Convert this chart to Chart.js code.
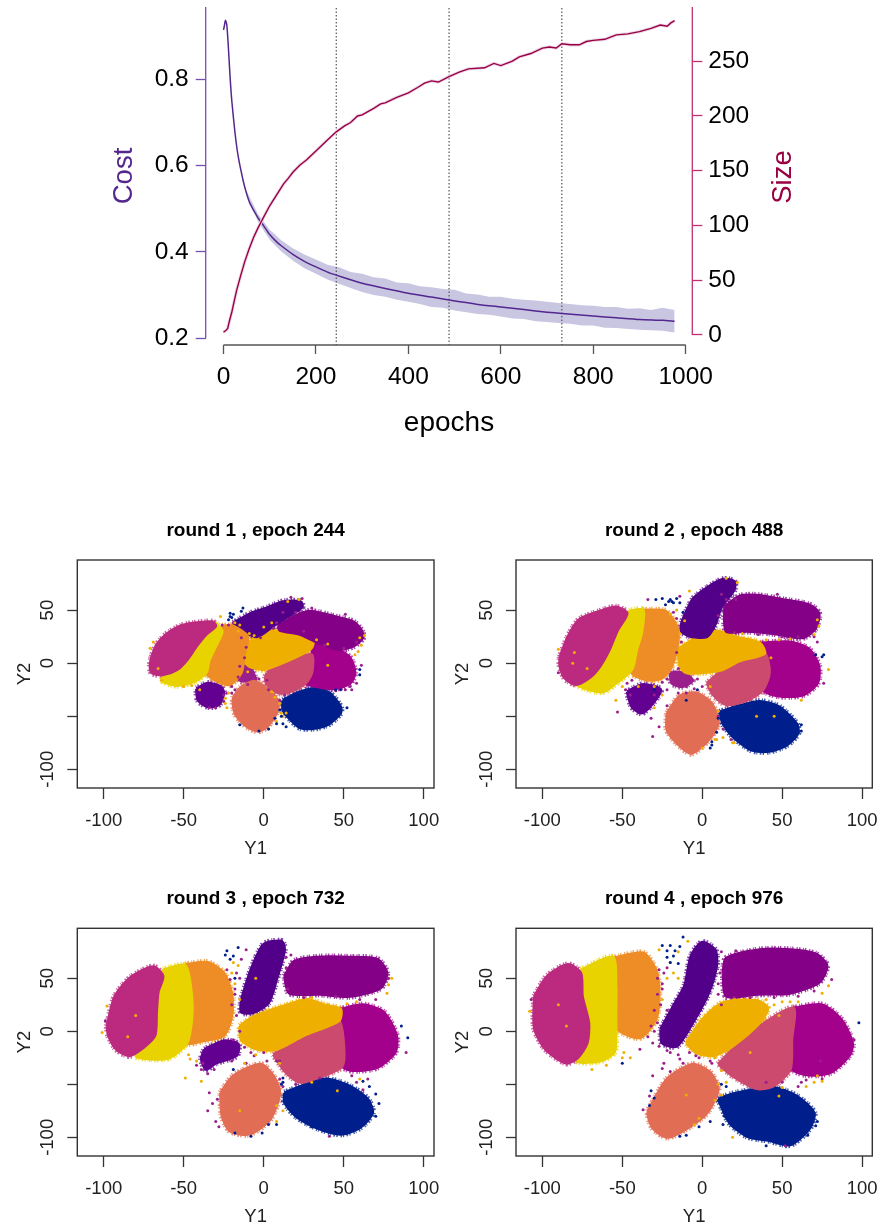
<!DOCTYPE html>
<html><head><meta charset="utf-8">
<style>
html,body{margin:0;padding:0;background:#fff;width:881px;height:1228px;overflow:hidden}
canvas{position:absolute;display:block;filter:blur(.35px)}
</style>
<script src="https://cdn.jsdelivr.net/npm/chart.js@4/dist/chart.umd.min.js"></script>
</head><body>
<canvas id="top"></canvas><canvas id="p1"></canvas><canvas id="p2"></canvas><canvas id="p3"></canvas><canvas id="p4"></canvas>
<script>
// ---------- top chart values ----------
const roundEpochs = [244, 488, 732];
const costLine = [[0,.915],[2,.925],[4,.937],[7,.928],[10,.885],[14,.81],[18,.75],[25,.675],[32,.62],[43,.563],[50,.535],[57,.513],[75,.478],[86,.462],[100,.44],[115,.423],[125,.414],[150,.394],[175,.378],[200,.365],[225,.353],[244,.346],[275,.335],[300,.327],[350,.315],[400,.304],[450,.295],[488,.288],[550,.278],[600,.272],[650,.266],[700,.26],[732,.257],[800,.251],[850,.247],[900,.243],[950,.241],[976,.239]];
const bandEpochs = [40,50,75,100,125,150,175,200,225,250,275,300,325,350,375,400,425,450,475,500,525,550,575,600,625,650,675,700,725,750,775,800,825,850,875,900,925,950,976];
const costUpper = [.578,.541,.487,.451,.427,.408,.394,.382,.37,.364,.353,.349,.341,.338,.329,.327,.32,.318,.314,.312,.303,.301,.296,.296,.291,.289,.287,.284,.281,.279,.276,.275,.272,.272,.268,.269,.265,.27,.265];
const costLower = [.57,.529,.469,.428,.401,.38,.362,.349,.336,.326,.316,.307,.3,.296,.289,.284,.279,.272,.27,.264,.26,.256,.254,.25,.245,.244,.239,.237,.235,.233,.229,.229,.224,.223,.221,.219,.218,.217,.213];
const sizeLine = [[0,2.5],[5,4],[9,6],[13,13],[18,21],[28,40],[37,54],[46,67],[55,78],[65,89],[75,98],[86,107],[100,118],[115,128],[130,138],[140,143],[151,149],[165,155],[180,160],[200,168],[222,177],[244,185.5],[262,191],[275,194],[290,200],[300,201],[325,207],[340,211],[350,212],[375,217],[400,221],[420,226],[435,230],[450,232],[465,231],[488,236],[510,240],[530,243],[565,244],[585,248],[600,246],[625,250],[640,254],[665,257],[690,262],[705,263],[720,262],[732,266],[750,265],[770,265],[785,268],[800,269],[825,270],[850,274],[875,275],[900,277],[925,280],[945,283],[960,282],[968,285],[976,287]];

// ---------- embedding panels: cluster outlines in (Y1, Y2) ----------
const round1Rose=[[-70,6],[-67,17],[-61,27],[-52,35],[-42,38],[-32,39],[-30,35],[-36,27],[-42,16],[-48,3],[-54,-6],[-63,-11],[-70,-9],[-71,-2]];
const round1Yellow=[[-30,38],[-26,30],[-29,19],[-34,3],[-36,-9],[-43,-17],[-54,-21],[-63,-17],[-63,-11],[-54,-6],[-48,3],[-42,16],[-36,27]];
const round1Orange=[[-26,35],[-19,35],[-10,25],[-12,9],[-14,-9],[-21,-20],[-29,-17],[-36,-9],[-34,3],[-29,19]];
const round1DarkViolet=[[-19,38],[-8,47],[2,52],[12,58],[23,58],[24,53],[15,44],[6,35],[-4,25],[-13,30],[-18,35]];
const round1Purple=[[9,35],[19,44],[29,49],[44,44],[56,39],[61,31],[62,24],[56,16],[46,13],[33,20],[23,27],[10,31]];
const round1Amber=[[-12,13],[-6,24],[2,31],[10,30],[23,27],[31,20],[29,13],[19,5],[8,-2],[0,-6],[-9,-3],[-12,3]];
const round1Pink=[[2,-9],[10,0],[21,5],[30,8],[30,-9],[26,-19],[16,-27],[9,-28],[2,-20],[1,-14]];
const round1Magenta=[[31,20],[46,13],[54,5],[57,-9],[54,-19],[44,-24],[33,-22],[26,-19],[30,-9],[30,8]];
const round1Navy=[[12,-35],[21,-28],[31,-24],[41,-28],[48,-41],[48,-47],[41,-57],[33,-61],[23,-61],[16,-52],[12,-44]];
const round1Salmon=[[-14,-22],[-6,-17],[2,-24],[9,-36],[8,-47],[2,-60],[-4,-64],[-12,-58],[-18,-47],[-19,-33]];
const round1Small=[[-42,-24],[-35,-19],[-27,-22],[-25,-28],[-28,-39],[-35,-41],[-41,-35]];
const round1Blob=[[-14,-3],[-9,-3],[-5,-16],[-9,-17],[-15,-16]];
const round1StrayNavy=[[-21,44],[-22,41],[-19,46],[-13,52],[-14,49],[-21,47],[60,-11],[60,-6],[12,-57],[7,-52],[14,-60],[8,-57],[-20,43],[-16,40],[10,-44],[11,-50],[3,-62],[-3,-64],[-15,-58],[52,-42],[48,-25],[45,-25]];
const round1StrayGold=[[-71,14],[-69,20],[59,11],[57,8],[61,17],[-23,-42],[-24,-38],[-27,44],[12,-50],[11,-47],[14,-47],[-10,-8],[-11,2],[40,-2],[-18,38],[-15,36],[-16,30],[-9,28],[-6,26],[0,34],[5,38],[15,58],[22,60],[33,22],[40,18],[30,15],[60,24],[63,26],[5,-27],[7,-32],[10,-38],[3,-62],[8,-55],[-22,-28],[-24,-33],[-40,-25],[-45,-21],[-50,-22],[-66,-5],[-64,-16]];
const round1StrayPurple=[[17,62],[24,61],[61,-2],[58,-19],[-34,-42],[-25,-36],[-23,-28],[-20,-28],[-26,36],[51,46],[54,-22],[51,-25],[-22,36],[-19,38],[-14,24],[-11,15],[-12,5],[-15,-3],[-16,-13],[-20,-22],[-18,-25],[-10,-20],[-3,-15],[2,-16],[3,-25],[30,52],[8,38],[12,48],[20,48],[6,33],[-2,24],[25,30],[38,17],[50,14],[58,20],[55,-25],[45,-26],[13,-30],[10,-35],[-25,-30],[-30,-42]];

const round2Rose=[[-89,6],[-84,25],[-77,41],[-64,49],[-54,53],[-47,47],[-53,31],[-58,13],[-64,-3],[-70,-13],[-79,-20],[-86,-14],[-89,-3]];
const round2Yellow=[[-46,49],[-37,50],[-38,28],[-41,13],[-44,-6],[-54,-19],[-62,-27],[-73,-24],[-79,-19],[-70,-13],[-64,-3],[-58,13],[-53,31]];
const round2Orange=[[-37,50],[-23,49],[-16,35],[-15,22],[-19,-3],[-25,-14],[-34,-16],[-44,-9],[-41,13],[-38,28]];
const round2DarkViolet=[[-13,38],[-6,60],[3,71],[13,79],[20,77],[20,69],[12,53],[8,36],[3,25],[-7,25],[-13,30]];
const round2Purple=[[14,53],[23,63],[34,64],[50,60],[67,55],[73,47],[71,33],[63,24],[44,28],[28,30],[15,30]];
const round2Amber=[[-15,13],[-6,22],[9,30],[23,24],[36,19],[39,9],[23,2],[13,-6],[0,-9],[-10,-9],[-14,-3]];
const round2Pink=[[3,-19],[13,-6],[23,2],[39,9],[42,-9],[38,-25],[28,-35],[15,-39],[7,-30]];
const round2Magenta=[[36,19],[55,20],[67,13],[73,-3],[72,-19],[63,-30],[48,-31],[38,-25],[42,-9],[39,9]];
const round2Navy=[[11,-46],[21,-41],[36,-36],[48,-41],[59,-57],[60,-66],[53,-77],[42,-83],[31,-82],[19,-69],[13,-57]];
const round2Salmon=[[-22,-47],[-14,-31],[-4,-28],[6,-38],[10,-57],[3,-74],[-7,-85],[-16,-75],[-22,-63]];
const round2Small=[[-47,-27],[-37,-20],[-26,-25],[-31,-38],[-38,-47],[-44,-41]];
const round2Blob=[[-20,-9],[-12,-9],[-6,-16],[-12,-22],[-19,-19]];
const round2StrayNavy=[[-20,60],[-18,57],[-16,61],[-29,60],[-25,61],[75,6],[76,8],[62,-64],[6,-77],[5,-80],[-19,58],[-21,58],[-23,55],[-14,57],[-12,48],[10,-52],[9,-65],[6,-74],[-3,-25],[-10,-35],[-30,-25],[62,-58],[58,-70],[71,8]];
const round2StrayGold=[[73,35],[72,41],[79,-6],[-90,13],[-81,0],[-30,-42],[-54,-35],[62,-35],[15,80],[-8,68],[19,-75],[9,-72],[-80,10],[-72,-5],[45,-50],[34,-50],[-20,46],[-16,50],[-11,40],[22,76],[-14,28],[25,28],[40,22],[48,22],[55,23],[38,15],[43,5],[5,-22],[10,-45],[13,-70],[8,-72],[0,-80],[20,-75],[-30,-22],[-25,-30],[-50,-22],[-40,-22],[70,27]];
const round2StrayPurple=[[76,-19],[-53,-46],[-32,-52],[-31,-69],[-27,-60],[-34,60],[-90,-9],[-14,63],[47,65],[-18,-13],[-10,-22],[-47,-19],[-44,-16],[-18,48],[-16,42],[-13,20],[-16,10],[-15,-5],[-17,-8],[-22,-15],[-25,-18],[-22,-25],[-15,-28],[-10,-28],[-5,-24],[0,-22],[-3,-15],[12,65],[15,60],[21,60],[10,45],[20,29],[35,27],[50,25],[60,25],[70,25],[72,20],[10,-50],[13,-62],[18,-72],[-30,-30],[-45,-30],[-48,-25],[-22,-40]];

const round3Rose=[[-98,5],[-93,33],[-83,51],[-69,61],[-63,52],[-66,37],[-67,18],[-68,-4],[-75,-15],[-84,-23],[-92,-17],[-97,-4]];
const round3Yellow=[[-63,58],[-49,62],[-45,33],[-45,11],[-48,-11],[-59,-25],[-71,-26],[-80,-23],[-75,-15],[-68,-4],[-67,18],[-66,37]];
const round3Orange=[[-49,63],[-35,65],[-25,55],[-20,36],[-20,14],[-25,-4],[-38,-9],[-48,-11],[-45,11],[-45,33]];
const round3DarkViolet=[[-14,30],[-8,58],[0,82],[11,85],[13,77],[8,49],[3,27],[-6,18],[-14,18]];
const round3Purple=[[13,52],[19,66],[33,70],[54,70],[71,68],[77,55],[73,41],[54,33],[35,35],[16,36]];
const round3Amber=[[-15,5],[-6,14],[19,27],[27,30],[38,25],[48,21],[47,10],[25,-4],[8,-17],[-4,-17],[-14,-8]];
const round3Pink=[[6,-22],[19,-11],[35,2],[47,10],[50,-14],[49,-33],[37,-42],[23,-48],[14,-39]];
const round3Magenta=[[48,21],[62,25],[75,18],[83,-4],[82,-20],[71,-34],[56,-37],[49,-33],[46,-11]];
const round3Navy=[[13,-58],[23,-52],[39,-45],[54,-52],[65,-64],[68,-77],[60,-91],[48,-97],[33,-91],[20,-80],[13,-67]];
const round3Salmon=[[-27,-58],[-19,-42],[-2,-31],[6,-42],[10,-58],[4,-83],[-9,-97],[-21,-94],[-26,-80]];
const round3Small=[[-37,-17],[-25,-9],[-16,-12],[-17,-23],[-30,-30],[-36,-36],[-39,-26]];
const round3StrayNavy=[[-23,76],[-16,79],[-19,71],[-21,68],[86,5],[90,-6],[70,-59],[62,-47],[-1,-96],[3,-88],[-19,-36],[12,-48],[-24,72],[30,-70],[50,-55],[11,-50],[12,-44],[8,-88],[-8,-99],[-18,-96],[70,-80],[72,-68],[66,-52],[30,-90],[-18,50]];
const round3StrayGold=[[78,44],[77,36],[-98,24],[-101,-1],[-49,-44],[-39,-47],[46,-56],[-46,-26],[-19,65],[-80,15],[-85,-5],[-15,-75],[5,10],[-5,50],[-20,55],[-16,62],[-18,45],[-15,30],[30,32],[40,25],[52,26],[58,28],[35,18],[42,15],[10,-30],[8,-70],[12,-75],[8,-85],[-12,-30],[-5,-22],[80,50],[-42,-28],[-47,-22],[60,-45],[30,-48]];
const round3StrayPurple=[[-11,77],[-14,68],[89,-20],[-99,10],[-34,-58],[-35,-75],[-29,-64],[41,-99],[58,-48],[62,-55],[-31,-36],[-39,-36],[-19,-8],[-6,-23],[0,-20],[-11,-30],[14,70],[-23,58],[-21,49],[-18,40],[10,-28],[-15,50],[-17,55],[-18,35],[-20,25],[-17,15],[-15,0],[-12,-15],[-8,-20],[2,-28],[8,-28],[-20,-28],[-35,-40],[-38,-30],[-42,-32],[15,40],[14,60],[17,72],[25,32],[45,33],[60,30],[70,30],[78,50],[10,-45],[12,-52],[20,-50],[35,-44],[55,-42],[65,-45],[-30,-85],[-28,-90],[-32,-68]];

const round4Rose=[[-105,33],[-97,52],[-84,63],[-76,55],[-75,33],[-71,8],[-72,-11],[-78,-25],[-85,-30],[-98,-17],[-105,3]];
const round4Yellow=[[-76,58],[-56,70],[-54,43],[-54,18],[-54,-4],[-55,-20],[-64,-28],[-78,-28],[-72,-11],[-71,8],[-75,33]];
const round4Orange=[[-56,69],[-37,74],[-29,58],[-27,36],[-29,11],[-39,-6],[-53,2],[-54,18],[-54,43]];
const round4DarkViolet=[[-26,2],[-18,24],[-11,43],[-7,71],[0,84],[8,77],[9,62],[4,36],[-6,8],[-16,-14],[-25,-11]];
const round4Purple=[[13,55],[15,69],[36,77],[55,77],[71,73],[78,62],[73,46],[55,36],[34,35],[15,33]];
const round4Amber=[[-10,-11],[0,11],[13,27],[34,29],[41,22],[36,8],[19,-14],[7,-23],[-4,-20]];
const round4Pink=[[10,-31],[19,-17],[36,5],[57,22],[56,-8],[55,-36],[44,-52],[34,-54],[19,-42]];
const round4Magenta=[[57,22],[75,25],[87,11],[94,-11],[92,-23],[80,-39],[65,-41],[55,-34],[56,-8]];
const round4Navy=[[10,-64],[19,-59],[44,-53],[59,-61],[70,-77],[67,-92],[55,-107],[42,-103],[28,-99],[17,-86]];
const round4Salmon=[[-31,-67],[-22,-45],[-6,-31],[5,-39],[10,-55],[3,-77],[-10,-92],[-22,-100],[-31,-91],[-34,-77]];
const round4StrayNavy=[[-20,81],[-12,89],[-25,81],[-18,71],[98,8],[71,-89],[40,-108],[13,-88],[-32,-56],[-50,-30],[-14,-99],[-17,76],[-22,76],[-15,64],[14,-80],[45,-60],[-20,65],[-22,70],[-14,80],[12,-50],[15,-52],[5,-85],[-2,-90],[-10,-98],[-30,-63],[-33,-70],[72,-85],[66,-98]];
const round4StrayGold=[[79,43],[75,36],[-108,19],[-49,-20],[72,-42],[65,-52],[19,-100],[48,-61],[-9,85],[-27,77],[-69,-36],[-90,25],[-85,5],[-10,-60],[30,-20],[-22,50],[-18,55],[-20,65],[-15,75],[-15,50],[-25,30],[20,30],[40,30],[50,28],[45,25],[55,28],[60,28],[38,15],[48,15],[8,-25],[12,-37],[15,-48],[10,-50],[12,-60],[8,-65],[-2,-82],[-5,-88],[50,-53],[70,-48],[75,-47],[-45,-25],[-50,-25],[-60,-32]];
const round4StrayPurple=[[21,76],[81,49],[95,-8],[-107,30],[-37,-74],[-33,-61],[-31,-42],[-20,-20],[-14,-26],[-4,-23],[-39,-17],[52,-108],[74,-28],[62,-48],[-24,-30],[-27,58],[-31,-11],[-25,40],[-22,20],[6,-30],[-28,50],[-25,45],[-28,35],[-26,25],[-30,20],[-28,8],[-32,5],[-24,55],[-22,60],[-30,0],[-34,-5],[-27,-14],[-22,-18],[-15,-22],[-8,-20],[-2,-25],[5,-28],[-12,-30],[12,25],[10,35],[10,45],[11,55],[12,75],[20,32],[30,32],[45,32],[60,33],[70,38],[40,-48],[50,-48],[60,-52],[75,-45],[65,-46],[-25,-35],[-20,-38]];

const xTickLabels = ['-100','-50','0','50','100'];
const yTickLabels = {'50':'50','0':'0','-50':'','-100':'-100'};

// ---------- styles ----------
const FONT = '"Liberation Sans", Arial, sans-serif';
const COL = {rose:'#bb2a7f',yellow:'#e8d300',orange:'#ee8c26',dark:'#52008a',purple:'#830087',amber:'#eeaf00',pink:'#cc4a6e',magenta:'#a3008b',navy:'#001f8c',salmon:'#e26d55',small:'#620092',blob:'#9a1f8c'};
const pts = a => a.map(p => ({x:p[0], y:p[1]}));
const axisTick = (color,len) => ({display:true,drawOnChartArea:false,drawTicks:true,tickLength:len,tickColor:color,tickWidth:1.3});
const noPad = s => {s.paddingTop=0;s.paddingBottom=0;s.paddingLeft=0;s.paddingRight=0};

// axis rules in R style: spanning ticks only, and the "Size" title that reads upward on the right
const topAxes = {
  id:'topAxes',
  afterDraw(c){
    const g=c.ctx,a=c.chartArea,s=c.scales;
    g.save();
    g.lineWidth=1.3;
    g.strokeStyle='#555';g.beginPath();g.moveTo(s.x.getPixelForValue(0),a.bottom);g.lineTo(s.x.getPixelForValue(1000),a.bottom);g.stroke();
    g.strokeStyle='#7650b0';g.beginPath();g.moveTo(a.left,s.y.getPixelForValue(.2));g.lineTo(a.left,a.top);g.stroke();
    g.strokeStyle='#c0306f';g.beginPath();g.moveTo(a.right,s.y2.getPixelForValue(0));g.lineTo(a.right,a.top);g.stroke();
    g.translate(783,177);g.rotate(-Math.PI/2);
    g.fillStyle='#980043';g.font='27.5px '+FONT;g.textAlign='center';g.textBaseline='middle';
    g.fillText('Size',0,0);
    g.restore();
  }
};
const frame = {
  id:'frame',
  afterDraw(c){
    const g=c.ctx,a=c.chartArea;
    g.save();g.strokeStyle='#333';g.lineWidth=1.4;
    g.strokeRect(a.left,a.top,a.right-a.left,a.bottom-a.top);g.restore();
  }
};

function place(id,l,t,w,h){
  const el=document.getElementById(id);
  el.width=w;el.height=h;el.style.left=l+'px';el.style.top=t+'px';
  el.style.width=w+'px';el.style.height=h+'px';
  return el;
}

// ---------- top chart ----------
const vLines = roundEpochs.map(e => ({
  data:[{x:e,y:.15},{x:e,y:1}],xAxisID:'x',yAxisID:'y',showLine:true,pointRadius:0,
  borderColor:'#555',borderWidth:1.2,borderDash:[1.5,2]
}));
new Chart(place('top',0,0,881,440),{
  type:'scatter',
  data:{datasets:[
    {label:'Size',data:pts(sizeLine),xAxisID:'x',yAxisID:'y2',showLine:true,pointRadius:0,borderColor:'#980043',borderWidth:1.4},
    {label:'Size band',data:pts(sizeLine),xAxisID:'x',yAxisID:'y2',showLine:true,pointRadius:0,borderColor:'#ecd6e8',borderWidth:3.2},
    {label:'Cost',data:pts(costLine),xAxisID:'x',yAxisID:'y',showLine:true,tension:.2,pointRadius:0,borderColor:'#54278f',borderWidth:1.5},
    ...vLines,
    {label:'Cost upper',data:bandEpochs.map((e,i)=>({x:e,y:costUpper[i]})),xAxisID:'x',yAxisID:'y',showLine:true,pointRadius:0,borderWidth:0,borderColor:'#c9c6e2',backgroundColor:'#c9c6e2',fill:'+1'},
    {label:'Cost lower',data:bandEpochs.map((e,i)=>({x:e,y:costLower[i]})),xAxisID:'x',yAxisID:'y',showLine:true,pointRadius:0,borderWidth:0,borderColor:'#c9c6e2'}
  ]},
  options:{
    responsive:false,animation:false,devicePixelRatio:1,
    layout:{autoPadding:false,padding:{top:7,left:0,right:0,bottom:0}},
    plugins:{legend:{display:false},tooltip:{enabled:false}},
    scales:{
      x:{type:'linear',position:'bottom',min:-38.5,max:1014.3,
        afterFit(s){s.height=95;noPad(s)},
        border:{display:false},grid:axisTick('#555',9),
        ticks:{stepSize:200,includeBounds:false,maxRotation:0,autoSkip:false,padding:9,color:'#000',font:{family:FONT,size:24.5},callback:v=>String(v)},
        title:{display:true,text:'epochs',color:'#000',font:{family:FONT,size:28},padding:{top:8,bottom:0}}},
      y:{type:'linear',position:'left',min:.1838,max:.968,
        afterFit(s){s.width=205.7;noPad(s)},
        border:{display:false},grid:axisTick('#7650b0',10),
        ticks:{stepSize:.2,includeBounds:false,padding:7,color:'#000',font:{family:FONT,size:24.5},callback:v=>v.toFixed(1)},
        title:{display:true,text:'Cost',color:'#54278f',font:{family:FONT,size:27.5},padding:{top:108,bottom:0}}},
      y2:{type:'linear',position:'right',min:-9.15,max:299.5,
        afterFit(s){s.width=188.7;noPad(s)},
        border:{display:false},grid:axisTick('#c0306f',10),
        ticks:{stepSize:50,includeBounds:false,padding:6,color:'#000',font:{family:FONT,size:24.5}}}
    }
  },
  plugins:[topAxes]
});

// ---------- panels ----------
function panel(id,l,t,w,h,yW,rightPad,topH,titleText,titleTop,yTitlePad,clusters,strayNavy,strayGold,strayPurple){
  const dots=(a,c)=>({data:pts(a),pointRadius:1.5,pointBorderWidth:0,pointBackgroundColor:c,showLine:false});
  const closed=a=>pts(a.concat([a[0]]));
  // solid body of each cluster, slightly grown by a round-joined border
  const shape=([a,c])=>({data:closed(a),showLine:true,tension:.25,pointRadius:0,backgroundColor:c,borderColor:c,
    borderWidth:3,borderJoinStyle:'round',fill:'shape'});
  // fine irregular fringe under the bodies, standing in for the loose outer points
  const fringe=([a,c])=>({data:closed(a),showLine:true,tension:.25,pointRadius:0,borderColor:c+'bb',
    borderWidth:6.5,borderDash:[1.3,1.2,1.6,2.2,1,.9,1.4,2.8],borderCapStyle:'butt',fill:false});
  new Chart(place(id,l,t,w,h),{
    type:'scatter',
    data:{datasets:[dots(strayNavy,COL.navy),dots(strayGold,COL.amber),dots(strayPurple,COL.blob),...clusters.map(shape),...clusters.map(fringe)]},
    options:{
      responsive:false,animation:false,devicePixelRatio:1,
      layout:{autoPadding:false,padding:{top:0,left:0,right:rightPad,bottom:0}},
      plugins:{legend:{display:false},tooltip:{enabled:false},
        title:{display:true,fullSize:false,text:titleText,color:'#000',font:{family:FONT,size:19,weight:'bold'},
          padding:{top:titleTop,bottom:topH-titleTop-22.8}}},
      scales:{
        x:{type:'linear',min:-116.5,max:106.4,
          afterFit(s){s.height=72;noPad(s)},
          border:{display:false},grid:axisTick('#333',11),
          ticks:{stepSize:50,includeBounds:false,maxRotation:0,autoSkip:false,padding:11,color:'#222',font:{family:FONT,size:18.5},callback:v=>xTickLabels[(v+100)/50]},
          title:{display:true,text:'Y1',color:'#222',font:{family:FONT,size:18.5},padding:{top:1,bottom:0}}},
        y:{type:'linear',min:-117.6,max:97.2,
          afterFit(s){s.width=yW;noPad(s)},
          border:{display:false},grid:axisTick('#333',10),
          ticks:{stepSize:50,includeBounds:false,minRotation:90,maxRotation:90,autoSkip:false,crossAlign:'center',padding:1,color:'#222',font:{family:FONT,size:18.5},callback:v=>yTickLabels[String(v)]},
          title:{display:true,text:'Y2',color:'#222',font:{family:FONT,size:18.5},padding:{top:yTitlePad,bottom:0}}}
      }
    },
    plugins:[frame]
  });
}
panel('p1',0,510,440,350,77.3,6,50,'round 1 , epoch 244',9.6,13.6,
 [[round1Rose,COL.rose],[round1Yellow,COL.yellow],[round1Orange,COL.orange],[round1DarkViolet,COL.dark],[round1Purple,COL.purple],[round1Amber,COL.amber],[round1Pink,COL.pink],[round1Magenta,COL.magenta],[round1Navy,COL.navy],[round1Salmon,COL.salmon],[round1Small,COL.small],[round1Blob,COL.blob]],
 round1StrayNavy,round1StrayGold,round1StrayPurple);
panel('p2',440,510,441,350,76,8.7,50,'round 2 , epoch 488',9.6,11.6,
 [[round2Rose,COL.rose],[round2Yellow,COL.yellow],[round2Orange,COL.orange],[round2DarkViolet,COL.dark],[round2Purple,COL.purple],[round2Amber,COL.amber],[round2Pink,COL.pink],[round2Magenta,COL.magenta],[round2Navy,COL.navy],[round2Salmon,COL.salmon],[round2Small,COL.small],[round2Blob,COL.blob]],
 round2StrayNavy,round2StrayGold,round2StrayPurple);
panel('p3',0,880,440,348,77.3,6,48.3,'round 3 , epoch 732',7.3,13.6,
 [[round3Rose,COL.rose],[round3Yellow,COL.yellow],[round3Orange,COL.orange],[round3DarkViolet,COL.dark],[round3Purple,COL.purple],[round3Amber,COL.amber],[round3Pink,COL.pink],[round3Magenta,COL.magenta],[round3Navy,COL.navy],[round3Salmon,COL.salmon],[round3Small,COL.small]],
 round3StrayNavy,round3StrayGold,round3StrayPurple);
panel('p4',440,880,441,348,76,8.7,48.3,'round 4 , epoch 976',7.3,11.6,
 [[round4Rose,COL.rose],[round4Yellow,COL.yellow],[round4Orange,COL.orange],[round4DarkViolet,COL.dark],[round4Purple,COL.purple],[round4Amber,COL.amber],[round4Pink,COL.pink],[round4Magenta,COL.magenta],[round4Navy,COL.navy],[round4Salmon,COL.salmon]],
 round4StrayNavy,round4StrayGold,round4StrayPurple);
</script>
</body></html>
